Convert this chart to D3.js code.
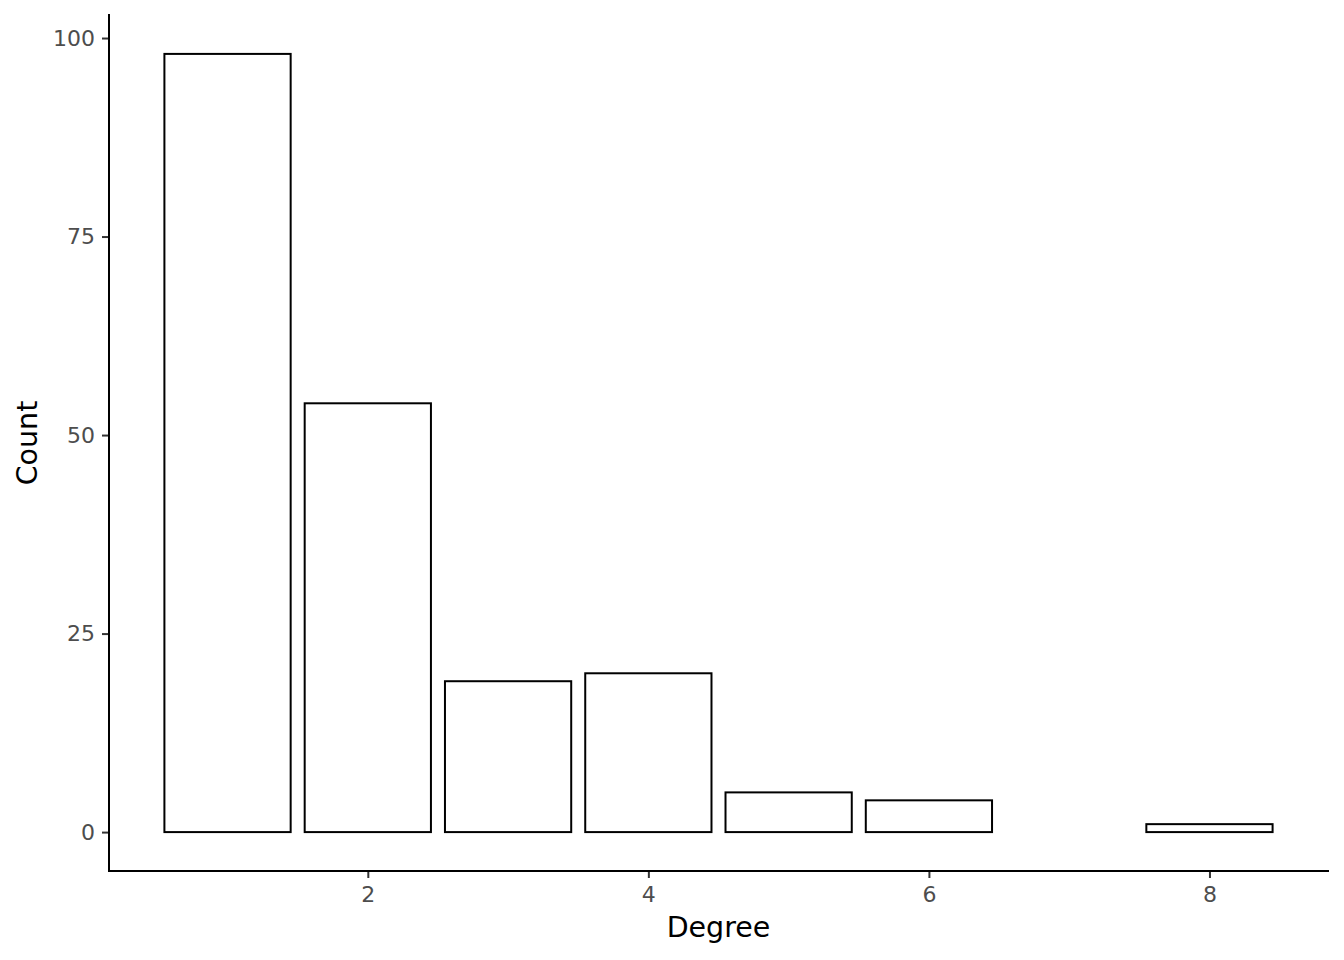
<!DOCTYPE html>
<html><head><meta charset="utf-8">
<script src="https://cdn.jsdelivr.net/npm/d3@7"></script>
<style>body{margin:0;background:#fff}svg{display:block}</style>
</head><body>
<script>
const degrees = [1, 2, 3, 4, 5, 6, 8];
const counts = [98, 54, 19, 20, 5, 4, 1];
const xTicks = [2, 4, 6, 8];
const yTicks = [0, 25, 50, 75, 100];

(function(){
const W = 1344, H = 960;
const pL = 109, pR = 1328, pT = 15, pB = 871;
const svg = d3.select("body").append("svg").attr("width", W).attr("height", H);

const x = d3.scaleLinear().domain([0.155, 8.845]).range([pL, pR]);
const y = d3.scaleLinear().domain([-4.9, 102.9]).range([pB, pT]);
const bw = 0.9;

svg.append("g").selectAll("rect").data(degrees).join("rect")
  .attr("x", d => x(d - bw/2))
  .attr("width", d => x(d + bw/2) - x(d - bw/2))
  .attr("y", (d,i) => y(counts[i]))
  .attr("height", (d,i) => y(0) - y(counts[i]))
  .attr("fill", "#fff").attr("stroke", "#000").attr("stroke-width", 2);

const font = "DejaVu Sans, sans-serif";
const xAxis = svg.append("g").attr("transform", `translate(0,${pB})`)
  .call(d3.axisBottom(x).tickValues(xTicks).tickSize(7).tickPadding(8).tickFormat(d3.format("d")));
const yAxis = svg.append("g").attr("transform", `translate(${pL},0)`)
  .call(d3.axisLeft(y).tickValues(yTicks).tickSize(7).tickPadding(7).tickFormat(d3.format("d")));
[xAxis, yAxis].forEach(g => {
  g.attr("font-size", null).attr("font-family", null);
  g.select(".domain").remove();
  g.selectAll(".tick line").attr("stroke", "#333").attr("stroke-width", 2);
  g.selectAll(".tick text").attr("fill", "#4d4d4d").attr("font-family", font).attr("font-size", "22px");
});
svg.append("line").attr("x1", pL).attr("x2", pR).attr("y1", pB).attr("y2", pB).attr("stroke", "#000").attr("stroke-width", 2).attr("stroke-linecap","square");
svg.append("line").attr("x1", pL).attr("x2", pL).attr("y1", pT).attr("y2", pB).attr("stroke", "#000").attr("stroke-width", 2).attr("stroke-linecap","square");

svg.append("text").attr("x", (pL + pR) / 2).attr("y", 937).attr("text-anchor", "middle")
  .attr("font-family", font).attr("font-size", "28.5px").attr("fill", "#000").text("Degree");
svg.append("text").attr("transform", `translate(37,${(pT + pB) / 2}) rotate(-90)`).attr("text-anchor", "middle")
  .attr("font-family", font).attr("font-size", "28.5px").attr("fill", "#000").text("Count");
})();
</script>
</body></html>
